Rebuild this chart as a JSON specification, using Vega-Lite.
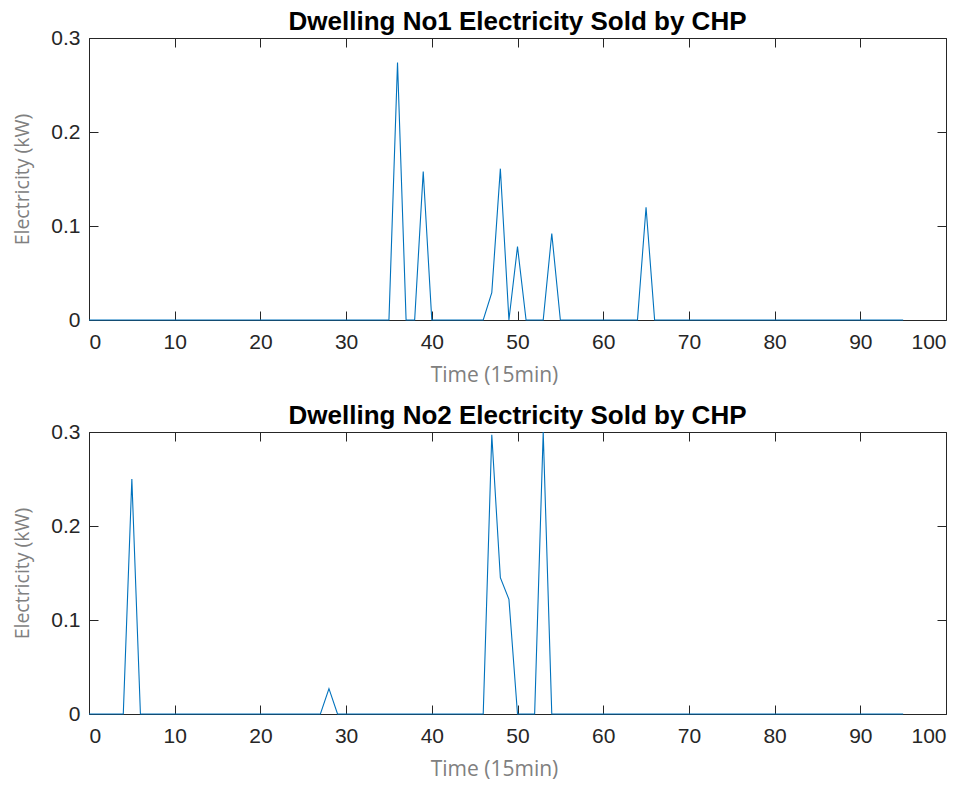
{
  "$schema": "https://vega.github.io/schema/vega-lite/v6.json",
  "padding": {"left": 12, "top": 8, "right": 5, "bottom": 5},
  "background": "white",
  "config": {
    "view": {"stroke": "#262626", "strokeWidth": 1},
    "title": {"font": "Liberation Sans", "fontSize": 26, "fontWeight": "bold", "color": "#000000", "offset": -8, "anchor": "middle"},
    "axis": {"domain": false, "grid": false, "tickColor": "#262626", "tickWidth": 1, "labelFont": "Liberation Sans", "labelFontSize": 21, "labelColor": "#262626", "titleFont": "Open Sans", "titleColor": "#808080", "titleFontWeight": "normal"}
  },
  "datasets": {
    "d1": [
      {"t":0,"kW":0},{"t":1,"kW":0},{"t":2,"kW":0},{"t":3,"kW":0},{"t":4,"kW":0},{"t":5,"kW":0},{"t":6,"kW":0},{"t":7,"kW":0},{"t":8,"kW":0},{"t":9,"kW":0},
      {"t":10,"kW":0},{"t":11,"kW":0},{"t":12,"kW":0},{"t":13,"kW":0},{"t":14,"kW":0},{"t":15,"kW":0},{"t":16,"kW":0},{"t":17,"kW":0},{"t":18,"kW":0},{"t":19,"kW":0},
      {"t":20,"kW":0},{"t":21,"kW":0},{"t":22,"kW":0},{"t":23,"kW":0},{"t":24,"kW":0},{"t":25,"kW":0},{"t":26,"kW":0},{"t":27,"kW":0},{"t":28,"kW":0},{"t":29,"kW":0},
      {"t":30,"kW":0},{"t":31,"kW":0},{"t":32,"kW":0},{"t":33,"kW":0},{"t":34,"kW":0},{"t":35,"kW":0},{"t":36,"kW":0.274},{"t":37,"kW":0},{"t":38,"kW":0},{"t":39,"kW":0.158},
      {"t":40,"kW":0},{"t":41,"kW":0},{"t":42,"kW":0},{"t":43,"kW":0},{"t":44,"kW":0},{"t":45,"kW":0},{"t":46,"kW":0},{"t":47,"kW":0.029},{"t":48,"kW":0.161},{"t":49,"kW":0},
      {"t":50,"kW":0.078},{"t":51,"kW":0},{"t":52,"kW":0},{"t":53,"kW":0},{"t":54,"kW":0.092},{"t":55,"kW":0},{"t":56,"kW":0},{"t":57,"kW":0},{"t":58,"kW":0},{"t":59,"kW":0},
      {"t":60,"kW":0},{"t":61,"kW":0},{"t":62,"kW":0},{"t":63,"kW":0},{"t":64,"kW":0},{"t":65,"kW":0.12},{"t":66,"kW":0},{"t":67,"kW":0},{"t":68,"kW":0},{"t":69,"kW":0},
      {"t":70,"kW":0},{"t":71,"kW":0},{"t":72,"kW":0},{"t":73,"kW":0},{"t":74,"kW":0},{"t":75,"kW":0},{"t":76,"kW":0},{"t":77,"kW":0},{"t":78,"kW":0},{"t":79,"kW":0},
      {"t":80,"kW":0},{"t":81,"kW":0},{"t":82,"kW":0},{"t":83,"kW":0},{"t":84,"kW":0},{"t":85,"kW":0},{"t":86,"kW":0},{"t":87,"kW":0},{"t":88,"kW":0},{"t":89,"kW":0},
      {"t":90,"kW":0},{"t":91,"kW":0},{"t":92,"kW":0},{"t":93,"kW":0},{"t":94,"kW":0},{"t":95,"kW":0}
    ],
    "d2": [
      {"t":0,"kW":0},{"t":1,"kW":0},{"t":2,"kW":0},{"t":3,"kW":0},{"t":4,"kW":0},{"t":5,"kW":0.25},{"t":6,"kW":0},{"t":7,"kW":0},{"t":8,"kW":0},{"t":9,"kW":0},
      {"t":10,"kW":0},{"t":11,"kW":0},{"t":12,"kW":0},{"t":13,"kW":0},{"t":14,"kW":0},{"t":15,"kW":0},{"t":16,"kW":0},{"t":17,"kW":0},{"t":18,"kW":0},{"t":19,"kW":0},
      {"t":20,"kW":0},{"t":21,"kW":0},{"t":22,"kW":0},{"t":23,"kW":0},{"t":24,"kW":0},{"t":25,"kW":0},{"t":26,"kW":0},{"t":27,"kW":0},{"t":28,"kW":0.027},{"t":29,"kW":0},
      {"t":30,"kW":0},{"t":31,"kW":0},{"t":32,"kW":0},{"t":33,"kW":0},{"t":34,"kW":0},{"t":35,"kW":0},{"t":36,"kW":0},{"t":37,"kW":0},{"t":38,"kW":0},{"t":39,"kW":0},
      {"t":40,"kW":0},{"t":41,"kW":0},{"t":42,"kW":0},{"t":43,"kW":0},{"t":44,"kW":0},{"t":45,"kW":0},{"t":46,"kW":0},{"t":47,"kW":0.297},{"t":48,"kW":0.145},{"t":49,"kW":0.122},
      {"t":50,"kW":0},{"t":51,"kW":0},{"t":52,"kW":0},{"t":53,"kW":0.3},{"t":54,"kW":0},{"t":55,"kW":0},{"t":56,"kW":0},{"t":57,"kW":0},{"t":58,"kW":0},{"t":59,"kW":0},
      {"t":60,"kW":0},{"t":61,"kW":0},{"t":62,"kW":0},{"t":63,"kW":0},{"t":64,"kW":0},{"t":65,"kW":0},{"t":66,"kW":0},{"t":67,"kW":0},{"t":68,"kW":0},{"t":69,"kW":0},
      {"t":70,"kW":0},{"t":71,"kW":0},{"t":72,"kW":0},{"t":73,"kW":0},{"t":74,"kW":0},{"t":75,"kW":0},{"t":76,"kW":0},{"t":77,"kW":0},{"t":78,"kW":0},{"t":79,"kW":0},
      {"t":80,"kW":0},{"t":81,"kW":0},{"t":82,"kW":0},{"t":83,"kW":0},{"t":84,"kW":0},{"t":85,"kW":0},{"t":86,"kW":0},{"t":87,"kW":0},{"t":88,"kW":0},{"t":89,"kW":0},
      {"t":90,"kW":0},{"t":91,"kW":0},{"t":92,"kW":0},{"t":93,"kW":0},{"t":94,"kW":0},{"t":95,"kW":0}
    ]
  },
  "spacing": 16,
  "vconcat": [
    {
      "title": "Dwelling No1 Electricity Sold by CHP",
      "width": 857, "height": 282,
      "data": {"name": "d1"},
      "layer": [
        {
          "mark": {"type": "line", "color": "#0072BD", "strokeWidth": 1.1},
          "encoding": {
            "x": {"field": "t", "type": "quantitative", "scale": {"domain": [0, 100], "nice": false}, "axis": {"values": [0,10,20,30,40,50,60,70,80,90,100], "tickSize": -9, "labelPadding": 20, "title": "Time (15min)", "titleFontSize": 21, "titlePadding": 12, "titleX": 405}},
            "y": {"field": "kW", "type": "quantitative", "scale": {"domain": [0, 0.3], "nice": false}, "axis": {"values": [0,0.1,0.2,0.3], "format": "~g", "tickSize": -9, "labelPadding": 18, "title": "Electricity (kW)", "titleFontSize": 19.5, "titlePadding": 18}}
          }
        },
        {
          "mark": {"type": "line", "opacity": 0},
          "encoding": {
            "x": {"field": "t", "type": "quantitative", "scale": {"domain": [0, 100], "nice": false}, "axis": {"orient": "top", "values": [0,10,20,30,40,50,60,70,80,90,100], "tickSize": -9, "labels": false, "title": null}},
            "y": {"field": "kW", "type": "quantitative", "scale": {"domain": [0, 0.3], "nice": false}, "axis": {"orient": "right", "values": [0,0.1,0.2,0.3], "tickSize": -9, "labels": false, "title": null}}
          }
        }
      ],
      "resolve": {"axis": {"x": "independent", "y": "independent"}}
    },
    {
      "title": "Dwelling No2 Electricity Sold by CHP",
      "width": 857, "height": 282,
      "data": {"name": "d2"},
      "layer": [
        {
          "mark": {"type": "line", "color": "#0072BD", "strokeWidth": 1.1},
          "encoding": {
            "x": {"field": "t", "type": "quantitative", "scale": {"domain": [0, 100], "nice": false}, "axis": {"values": [0,10,20,30,40,50,60,70,80,90,100], "tickSize": -9, "labelPadding": 20, "title": "Time (15min)", "titleFontSize": 21, "titlePadding": 12, "titleX": 405}},
            "y": {"field": "kW", "type": "quantitative", "scale": {"domain": [0, 0.3], "nice": false}, "axis": {"values": [0,0.1,0.2,0.3], "format": "~g", "tickSize": -9, "labelPadding": 18, "title": "Electricity (kW)", "titleFontSize": 19.5, "titlePadding": 18}}
          }
        },
        {
          "mark": {"type": "line", "opacity": 0},
          "encoding": {
            "x": {"field": "t", "type": "quantitative", "scale": {"domain": [0, 100], "nice": false}, "axis": {"orient": "top", "values": [0,10,20,30,40,50,60,70,80,90,100], "tickSize": -9, "labels": false, "title": null}},
            "y": {"field": "kW", "type": "quantitative", "scale": {"domain": [0, 0.3], "nice": false}, "axis": {"orient": "right", "values": [0,0.1,0.2,0.3], "tickSize": -9, "labels": false, "title": null}}
          }
        }
      ],
      "resolve": {"axis": {"x": "independent", "y": "independent"}}
    }
  ]
}
